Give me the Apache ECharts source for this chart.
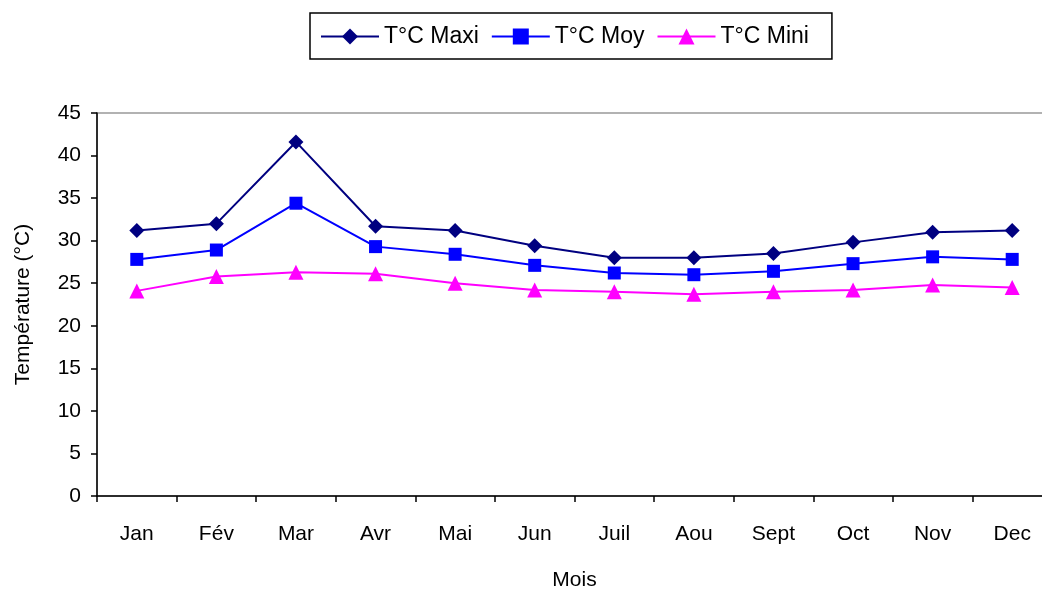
<!DOCTYPE html>
<html>
<head>
<meta charset="utf-8">
<script src="https://cdn.jsdelivr.net/npm/echarts@6/dist/echarts.min.js"></script>
<style>html,body{margin:0;padding:0;background:#fff;}#c{width:1042px;height:590px;}</style>
</head>
<body>
<div id="c"></div>
<script>
const months = ['Jan','Fév','Mar','Avr','Mai','Jun','Juil','Aou','Sept','Oct','Nov','Dec'];
const tMaxi = [31.2, 32.0, 41.6, 31.7, 31.2, 29.4, 28.0, 28.0, 28.5, 29.8, 31.0, 31.2];
const tMoy  = [27.8, 28.9, 34.4, 29.3, 28.4, 27.1, 26.2, 26.0, 26.4, 27.3, 28.1, 27.8];
const tMini = [24.1, 25.8, 26.3, 26.1, 25.0, 24.2, 24.0, 23.7, 24.0, 24.2, 24.8, 24.5];
const seriesNames = ['T°C Maxi','T°C Moy','T°C Mini'];

const font = '"Liberation Sans", Arial, sans-serif';
const chart = echarts.init(document.getElementById('c'), null, {renderer:'canvas'});
chart.setOption({
  animation:false,
  backgroundColor:'#fff',
  textStyle:{fontFamily:font},
  legend:{
    left:310, top:13,
    padding:[12,23,11,10],
    borderColor:'#000', borderWidth:1.5,
    itemWidth:58, itemHeight:20, itemGap:12,
    textStyle:{fontSize:23, color:'#000', fontFamily:font},
    data:seriesNames
  },
  grid:{left:97, top:113, width:955, height:383, outerBoundsMode:'none', containLabel:false,
        show:true, borderColor:'#999', borderWidth:1.5, backgroundColor:'transparent'},
  xAxis:{
    type:'category', data:months, boundaryGap:true,
    name:'Mois', nameLocation:'middle', nameGap:74,
    nameTextStyle:{fontSize:21, color:'#000', fontFamily:font},
    axisLine:{lineStyle:{color:'#000', width:1.5}},
    axisTick:{show:true, length:6, lineStyle:{color:'#000', width:1.5}, alignWithLabel:false},
    axisLabel:{fontSize:21, color:'#000', margin:28, fontFamily:font},
    splitLine:{show:false}
  },
  yAxis:{
    type:'value', min:0, max:45, interval:5,
    name:'Température (°C)', nameLocation:'middle', nameGap:63, nameRotate:90,
    nameTextStyle:{fontSize:21, color:'#000', fontFamily:font},
    axisLine:{show:true, lineStyle:{color:'#000', width:1.5}},
    axisTick:{show:true, length:6, lineStyle:{color:'#000', width:1.5}},
    axisLabel:{fontSize:21, color:'#000', margin:16, fontFamily:font},
    splitLine:{show:false}
  },
  series:[
    {name:seriesNames[0], type:'line', data:tMaxi, symbol:'diamond', symbolSize:15,
     lineStyle:{color:'#000080', width:2}, itemStyle:{color:'#000080'}},
    {name:seriesNames[1], type:'line', data:tMoy, symbol:'rect', symbolSize:13,
     lineStyle:{color:'#0000FF', width:2}, itemStyle:{color:'#0000FF'}},
    {name:seriesNames[2], type:'line', data:tMini, symbol:'triangle', symbolSize:15,
     lineStyle:{color:'#FF00FF', width:2}, itemStyle:{color:'#FF00FF'}}
  ]
});
</script>
</body>
</html>
